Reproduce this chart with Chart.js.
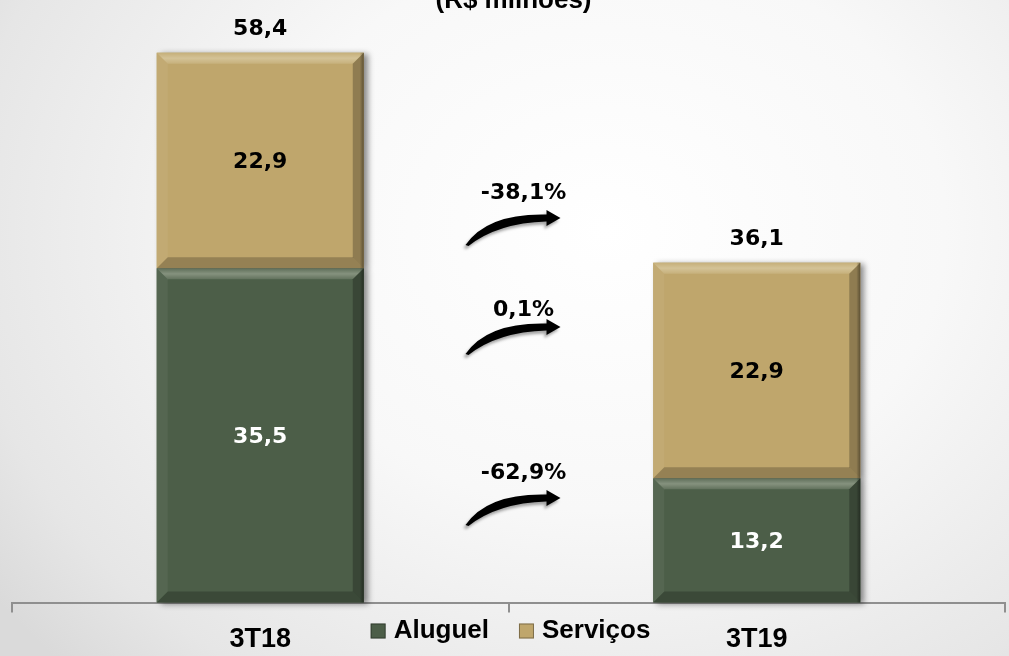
<!DOCTYPE html>
<html>
<head>
<meta charset="utf-8">
<script src="https://cdn.jsdelivr.net/npm/chart.js@4.4.0/dist/chart.umd.min.js"></script>
<style>
  html, body { margin: 0; padding: 0; }
  body {
    width: 1009px; height: 656px; overflow: hidden;
    background: radial-gradient(ellipse 75% 95% at 60% 35%, #ffffff 0%, #f8f8f8 45%, #e6e6e6 85%, #dadada 100%);
  }
  #wrap { position: relative; width: 1009px; height: 656px; }
</style>
</head>
<body>
<div id="wrap"><canvas id="chart"></canvas></div>
<script>
// data
const categories = ['3T18', '3T19'];
const aluguel = [35.5, 13.2];
const servicos = [22.9, 22.9];
const totals = [58.4, 36.1];
const changes = ['-38,1%', '0,1%', '-62,9%'];   // total, serviços, aluguel
const seriesNames = ['Aluguel', 'Serviços'];
const titleText = '(R$ milhões)';

// look
const colGreen = '#4c5e48';
const colTan = '#bfa66c';
const valueFont = 'bold 22px "DejaVu Sans", sans-serif';
const arrowRows = [{ tipY: 218, labelY: 193 }, { tipY: 327, labelY: 310 }, { tipY: 498, labelY: 473 }];

const fmt = v => v.toFixed(1).replace('.', ',');

function poly(ctx, pts, fill) {
    ctx.beginPath();
    ctx.moveTo(pts[0][0], pts[0][1]);
    for (let i = 1; i < pts.length; i++) ctx.lineTo(pts[i][0], pts[i][1]);
    ctx.closePath();
    ctx.fillStyle = fill;
    ctx.fill();
}

function barBox(el) {
    const p = el.getProps(['x', 'y', 'base', 'width'], true);
    return { l: p.x - p.width / 2, r: p.x + p.width / 2, t: Math.min(p.y, p.base), b: Math.max(p.y, p.base), x: p.x };
}

// shadow behind columns + bevel on each segment
const bevelPlugin = {
    id: 'bevel',
    beforeDatasetsDraw(chart) {
        const ctx = chart.ctx;
        ctx.save();
        ctx.shadowColor = 'rgba(0,0,0,0.45)';
        ctx.shadowBlur = 6;
        ctx.shadowOffsetX = 4;
        ctx.shadowOffsetY = 1;
        chart.data.datasets.forEach((ds, i) => {
            chart.getDatasetMeta(i).data.forEach(el => {
                const b = barBox(el);
                ctx.fillStyle = ds.backgroundColor;
                ctx.fillRect(b.l, b.t, b.r - b.l, b.b - b.t);
            });
        });
        ctx.restore();
    },
    afterDatasetsDraw(chart) {
        const ctx = chart.ctx;
        const d = 11;
        ctx.save();
        chart.data.datasets.forEach((ds, i) => {
            chart.getDatasetMeta(i).data.forEach(el => {
                const { l, r, t, b } = barBox(el);
                const gt = ctx.createLinearGradient(0, t, 0, t + d);
                gt.addColorStop(0, 'rgba(255,255,240,0.10)');
                gt.addColorStop(0.5, 'rgba(255,255,240,0.32)');
                gt.addColorStop(1, 'rgba(255,255,240,0.12)');
                poly(ctx, [[l, t], [r, t], [r - d, t + d], [l + d, t + d]], gt);
                poly(ctx, [[l, t], [l + d, t + d], [l + d, b - d], [l, b]], 'rgba(255,255,255,0.05)');
                poly(ctx, [[r, t], [r, b], [r - d, b - d], [r - d, t + d]], 'rgba(0,0,0,0.25)');
                poly(ctx, [[l, b], [r, b], [r - d, b - d], [l + d, b - d]], 'rgba(0,0,0,0.22)');
                const g = ctx.createLinearGradient(r - 4, 0, r, 0);
                g.addColorStop(0, 'rgba(0,0,0,0)');
                g.addColorStop(1, 'rgba(0,0,0,0.35)');
                ctx.fillStyle = g;
                ctx.fillRect(r - 4, t, 4, b - t);
            });
        });
        ctx.restore();
    }
};

// values inside segments and totals on top
const labelPlugin = {
    id: 'valueLabels',
    afterDatasetsDraw(chart) {
        const ctx = chart.ctx;
        ctx.save();
        ctx.font = valueFont;
        ctx.textAlign = 'center';
        ctx.textBaseline = 'middle';
        chart.data.datasets.forEach((ds, i) => {
            chart.getDatasetMeta(i).data.forEach((el, j) => {
                const b = barBox(el);
                ctx.fillStyle = i === 0 ? '#ffffff' : '#000000';
                ctx.fillText(fmt(ds.data[j]), b.x, (b.t + b.b) / 2 + 2);
            });
        });
        const top = chart.getDatasetMeta(chart.data.datasets.length - 1).data;
        ctx.fillStyle = '#000000';
        top.forEach((el, j) => {
            const b = barBox(el);
            ctx.fillText(fmt(totals[j]), b.x, b.t - 23);
        });
        ctx.restore();
    }
};

function drawArrow(ctx, tipX, tipY) {
    const sx = tipX - 14;
    const tx = tipX - 95, ty = tipY + 27;
    ctx.beginPath();
    ctx.moveTo(tx, ty);
    ctx.quadraticCurveTo(tx + 22, tipY - 5, sx, tipY - 3.5);
    ctx.lineTo(sx, tipY - 8);
    ctx.lineTo(tipX, tipY);
    ctx.lineTo(sx, tipY + 8);
    ctx.lineTo(sx, tipY + 3.5);
    ctx.quadraticCurveTo(tx + 32, tipY + 5, tx + 3, ty + 1);
    ctx.closePath();
    ctx.fill();
}

// title, change arrows and legend
const decoPlugin = {
    id: 'deco',
    afterDraw(chart) {
        const ctx = chart.ctx;
        const xs = chart.scales.x;
        const midX = xs.getPixelForValue(0.5);
        ctx.save();

        ctx.font = 'bold 26px "Liberation Sans", Arial, sans-serif';
        ctx.fillStyle = '#000';
        ctx.textAlign = 'center';
        ctx.textBaseline = 'alphabetic';
        ctx.fillText(titleText, midX + 5, 8);

        changes.forEach((txt, k) => {
            const row = arrowRows[k];
            ctx.save();
            ctx.shadowColor = 'rgba(0,0,0,0.35)';
            ctx.shadowBlur = 3;
            ctx.shadowOffsetX = -2;
            ctx.shadowOffsetY = 3;
            ctx.fillStyle = '#000';
            drawArrow(ctx, midX + 52, row.tipY);
            ctx.restore();
            ctx.font = valueFont;
            ctx.textAlign = 'center';
            ctx.textBaseline = 'middle';
            ctx.fillStyle = '#000';
            ctx.fillText(txt, midX + 15, row.labelY);
        });

        // legend
        ctx.font = 'bold 26px "Liberation Sans", Arial, sans-serif';
        ctx.textBaseline = 'middle';
        ctx.textAlign = 'left';
        const box = 15, gap = 8, sep = 30;
        const widths = seriesNames.map(n => ctx.measureText(n).width);
        const total = widths.reduce((a, w) => a + box + gap + w, 0) + sep * (seriesNames.length - 1);
        let x = midX + 2 - total / 2;
        const y = 631;
        seriesNames.forEach((n, k) => {
            const c = chart.data.datasets[k].backgroundColor;
            ctx.fillStyle = c;
            ctx.fillRect(x, y - box / 2, box, box);
            ctx.strokeStyle = 'rgba(0,0,0,0.35)';
            ctx.lineWidth = 1;
            ctx.strokeRect(x + 0.5, y - box / 2 + 0.5, box - 1, box - 1);
            ctx.fillStyle = '#000';
            ctx.fillText(n, x + box + gap, y);
            x += box + gap + widths[k] + sep;
        });
        ctx.restore();
    }
};

new Chart(document.getElementById('chart').getContext('2d'), {
    type: 'bar',
    data: {
        labels: categories,
        datasets: [
            { label: seriesNames[0], data: aluguel, backgroundColor: colGreen },
            { label: seriesNames[1], data: servicos, backgroundColor: colTan }
        ]
    },
    options: {
        responsive: true,
        maintainAspectRatio: false,
        animation: false,
        layout: { padding: { left: 12, right: 4, top: 0, bottom: -11 } },
        datasets: { bar: { categoryPercentage: 1, barPercentage: 0.417, borderWidth: 0 } },
        plugins: {
            legend: { display: false },
            tooltip: { enabled: false }
        },
        scales: {
            x: {
                stacked: true,
                grid: { offset: true, drawOnChartArea: false, drawTicks: true, tickLength: 10, color: '#8f8f8f', lineWidth: 2 },
                border: { display: true, color: '#8f8f8f', width: 2 },
                ticks: { color: '#000', padding: 11, font: { family: '"Liberation Sans", Arial, sans-serif', size: 27, weight: 'bold' } }
            },
            y: {
                stacked: true,
                display: false,
                min: 0,
                max: 64
            }
        }
    },
    plugins: [bevelPlugin, labelPlugin, decoPlugin]
});
</script>
</body>
</html>
